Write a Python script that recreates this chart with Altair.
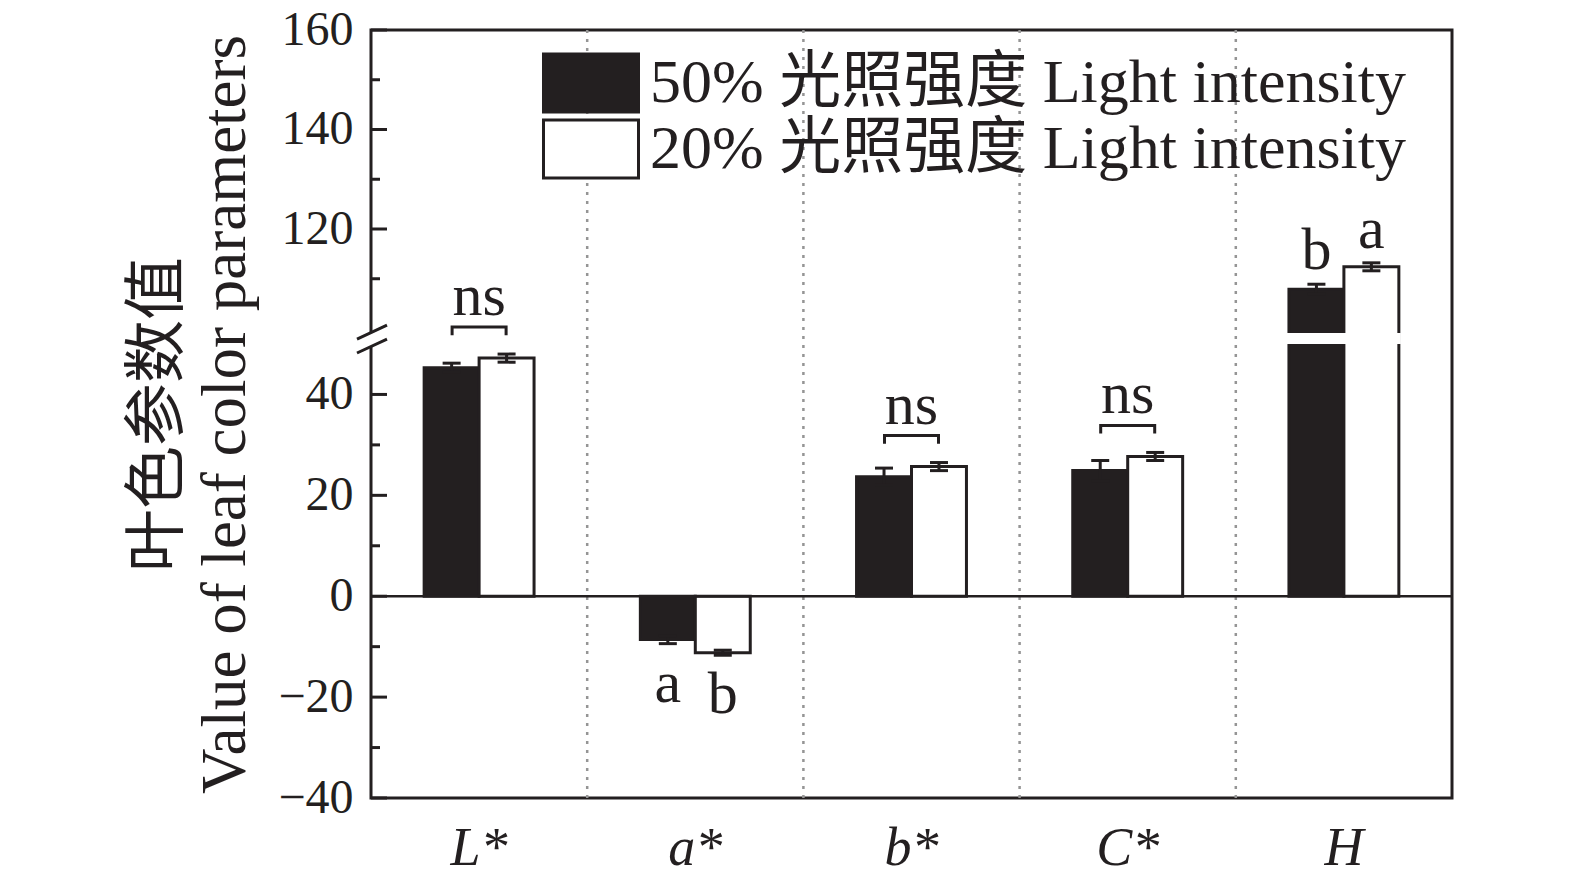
import altair as alt
import pandas as pd

# ---------------- data ----------------
categories = ["L*", "a*", "b*", "C*", "H"]
groups = ["50% 光照强度 Light intensity", "20% 光照强度 Light intensity"]
mean_50 = [45.3, -8.6, 23.7, 24.9, 107.9]
err_50 = [0.9, 0.8, 1.7, 2.0, 1.0]
mean_20 = [47.2, -11.2, 25.7, 27.7, 112.4]
err_20 = [0.8, 0.5, 0.8, 0.8, 0.8]
letters_50 = ["", "a", "", "", "b"]
letters_20 = ["", "b", "", "", "a"]
bracket_text = ["ns", "", "ns", "ns", ""]
major_ticks = [-40, -20, 0, 20, 40, 120, 140, 160]
minor_ticks = [-30, -10, 10, 30, 110, 130, 150]
axis_break = [50, 100]
y_limits = [-40, 160]

# ---------------- styling ----------------
INK = "#231f20"
SERIF = "Liberation Serif, Noto Sans CJK SC"
W, H = 1081, 768

rows = []
for i, c in enumerate(categories):
    rows.append(dict(category=c, group=groups[0], mean=mean_50[i], err=err_50[i],
                     letter=letters_50[i], bracket=bracket_text[i]))
    rows.append(dict(category=c, group=groups[1], mean=mean_20[i], err=err_20[i],
                     letter=letters_20[i], bracket=bracket_text[i]))
df = pd.DataFrame(rows)
df["lo"] = df["mean"] - df["err"]
df["hi"] = df["mean"] + df["err"]

b0, b1 = axis_break
# piecewise (broken) y scale: lower piece, narrow break band, upper piece
y_scale = alt.Scale(domain=[y_limits[0], b0, b1, y_limits[1]],
                    range=[H, 314, 298.5, 0], nice=False, zero=False)
x_scale = alt.Scale(domain=categories, paddingInner=0, paddingOuter=0)
xo_scale = alt.Scale(domain=groups, paddingInner=0, paddingOuter=0.967)


def X(**kw):
    return alt.X("category:N", scale=x_scale, sort=categories, **kw)


def Y(field, **kw):
    return alt.Y(field, scale=y_scale, **kw)


XO = alt.XOffset("group:N", scale=xo_scale, sort=groups)

legend_rect = "M-1.638,-1L1.638,-1L1.638,1L-1.638,1Z"

bars = alt.Chart(df).mark_bar(stroke=INK, strokeWidth=3).encode(
    x=X(title=None),
    xOffset=XO,
    y=Y("mean:Q", axis=alt.Axis(values=major_ticks,
                                title=["叶色参数值", "Value of leaf color parameters"])),
    y2=alt.datum(0),
    color=alt.Color("group:N", sort=groups,
                    scale=alt.Scale(domain=groups, range=[INK, "#ffffff"]),
                    legend=alt.Legend(orient="none", legendX=189, legendY=22, title=None,
                                      symbolType=legend_rect, symbolSize=3364,
                                      symbolStrokeColor=INK, symbolStrokeWidth=3,
                                      labelFont=SERIF, labelFontSize=62, labelColor=INK,
                                      labelOffset=28, rowPadding=-5, padding=0,
                                      labelLimit=2000)),
)

# white gap across bars that cross the axis break
gap = alt.Chart(df).transform_filter(f"datum.mean > {b1}").transform_calculate(
    g_lo=f"{b0} + 0.13*({b1}-{b0})",
    g_hi=f"{b0} + 0.58*({b1}-{b0})",
).mark_bar(fill="white", stroke="white", strokeWidth=4).encode(
    x=X(), xOffset=XO, y=Y("g_lo:Q"), y2="g_hi:Q",
)

err_rule = alt.Chart(df).mark_rule(stroke=INK, strokeWidth=3).encode(
    x=X(), xOffset=XO, y=Y("lo:Q"), y2="hi:Q")
cap_hi = alt.Chart(df).mark_tick(color=INK, size=18, thickness=3, opacity=1).encode(
    x=X(), xOffset=XO, y=Y("hi:Q"))
cap_lo = alt.Chart(df).mark_tick(color=INK, size=18, thickness=3, opacity=1).encode(
    x=X(), xOffset=XO, y=Y("lo:Q"))

# separators between categories
sep = alt.Chart(pd.DataFrame({"category": categories[1:]})).mark_rule(
    stroke="#959595", strokeDash=[3, 6], strokeWidth=2.5).encode(
    x=alt.X("category:N", scale=x_scale, sort=categories, bandPosition=0))

zero_line = alt.Chart(pd.DataFrame({"z": [0]})).mark_rule(stroke=INK, strokeWidth=2.5).encode(
    y=Y("z:Q"))

# inward y ticks
maj = alt.Chart(pd.DataFrame({"v": major_ticks})).mark_rule(stroke=INK, strokeWidth=3).encode(
    y=Y("v:Q"), x=alt.value(0), x2=alt.value(16))
mnr = alt.Chart(pd.DataFrame({"v": minor_ticks})).mark_rule(stroke=INK, strokeWidth=3).encode(
    y=Y("v:Q"), x=alt.value(0), x2=alt.value(9))

# significance brackets "ns"
br_base = alt.Chart(df).transform_filter("datum.bracket != ''").transform_aggregate(
    top="max(hi)", groupby=["category", "bracket"])
bracket = br_base.mark_point(shape="M-1,0.3L-1,0L1,0L1,0.3", size=54 * 54, filled=False,
                             stroke=INK, strokeWidth=3, opacity=1, yOffset=-27).encode(
    x=X(), y=Y("top:Q"))
ns_text = br_base.mark_text(font="Liberation Serif", fontSize=60, color=INK, dy=-39,
                            baseline="alphabetic", align="center").encode(
    x=X(), y=Y("top:Q"), text="bracket:N")

# letters
let_pos = alt.Chart(df).transform_filter("datum.letter != '' && datum.mean > 0").mark_text(
    font="Liberation Serif", fontSize=60, color=INK, dy=-15, baseline="alphabetic").encode(
    x=X(), xOffset=XO, y=Y("hi:Q"), text="letter:N")
let_neg = alt.Chart(df).transform_filter("datum.letter != '' && datum.mean < 0").mark_text(
    font="Liberation Serif", fontSize=60, color=INK, dy=58, baseline="alphabetic").encode(
    x=X(), xOffset=XO, y=Y("lo:Q"), text="letter:N")

# axis break marks on the left axis
brk_df = pd.DataFrame({"b": [b0 + 0.32 * (b1 - b0)]})
brk_mask = alt.Chart(brk_df).mark_point(shape="M-1,0L1,-0.93L1,0L-1,0.93Z", size=900,
                                         filled=True, fill="white", strokeWidth=0, opacity=1).encode(
    x=alt.value(1), y=Y("b:Q"))
brk_marks = alt.Chart(brk_df).mark_point(shape="M-1,0L1,-0.93M-1,0.93L1,0", size=900,
                                          filled=False, stroke=INK, strokeWidth=3, opacity=1).encode(
    x=alt.value(1), y=Y("b:Q"))

chart = alt.layer(
    sep, bars, gap, err_rule, cap_hi, cap_lo, zero_line, maj, mnr,
    bracket, ns_text, let_pos, let_neg, brk_mask, brk_marks,
).properties(
    width=W, height=H,
    autosize=alt.AutoSizeParams(type="none"),
    padding={"left": 363, "top": 22, "right": 80, "bottom": 78},
    background="white",
).configure_view(
    stroke=INK, strokeWidth=3
).configure_axis(
    ticks=False, domain=False, grid=False, labelColor=INK, titleColor=INK,
).configure_axisX(
    labelFont="Liberation Serif", labelFontStyle="italic", labelFontSize=54,
    labelPadding=23, labelAngle=0, title=None,
).configure_axisY(
    labelFont="Liberation Serif", labelFontSize=48, labelPadding=18,
    titleFont=SERIF, titleFontSize=63, titleFontWeight="normal",
    titleLineHeight=68, titlePadding=20,
)

chart.save("out.html", embed_options={"renderer": "svg", "actions": False})
